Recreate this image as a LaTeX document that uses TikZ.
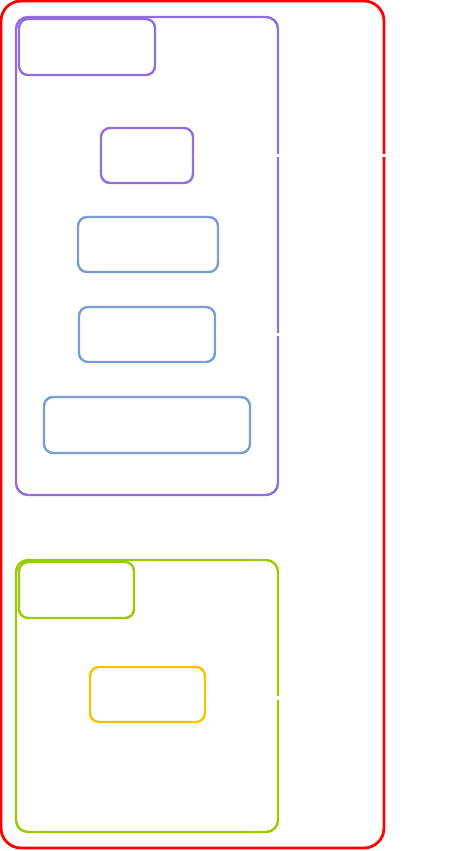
\documentclass[tikz,border=0pt]{standalone}
\usepackage{amsmath}
\usepackage{amssymb}
\definecolor{outerred}{RGB}{255,0,0}
\definecolor{lavender}{RGB}{147,108,221}
\definecolor{steel}{RGB}{122,156,208}
\definecolor{lime}{RGB}{153,204,0}
\definecolor{amber}{RGB}{255,192,0}
\begin{document}
\begin{tikzpicture}[x=1pt, y=-1pt, line width=2.4pt,
  cluster/.style={draw, rounded corners=12pt, inner sep=0pt},
  box/.style={draw, rounded corners=9pt, inner sep=0pt},
  hidden/.style={white, line width=3.5pt}]
\useasboundingbox (0,0) rectangle (465,851);
\node[cluster, draw=outerred, line width=2.8pt, rounded corners=20pt, minimum width=383pt, minimum height=847pt] (outer) at (192.5,424.5) {};
\node[cluster, draw=lavender, minimum width=262pt, minimum height=478pt] (upper) at (147,256) {};
\node[cluster, draw=lime, minimum width=262pt, minimum height=272pt] (lower) at (147,696) {};
\node[box, draw=lavender, minimum width=136pt, minimum height=56pt] (upperlabel) at (87,47) {};
\node[box, draw=lavender, minimum width=92pt, minimum height=55pt] (top) at (147,155.5) {};
\node[box, draw=steel, minimum width=140pt, minimum height=55pt] (mid1) at (148,244.5) {};
\node[box, draw=steel, minimum width=136pt, minimum height=55pt] (mid2) at (147,334.5) {};
\node[box, draw=steel, minimum width=206pt, minimum height=56pt] (wide) at (147,425) {};
\node[box, draw=lime, minimum width=115pt, minimum height=56pt] (lowerlabel) at (76.5,590) {};
\node[box, draw=amber, minimum width=115pt, minimum height=55pt] (leaf) at (147.5,694.5) {};
\coordinate (exit1) at (395,155.5);
\coordinate (exit2) at (300,334.5);
\coordinate (exit3) at (300,698);
\draw[hidden] (top) -- (exit1);
\draw[hidden] (mid2) -- (exit2);
\draw[hidden] ([yshift=-3.5pt]leaf.east) -- (exit3);
\end{tikzpicture}
\end{document}
